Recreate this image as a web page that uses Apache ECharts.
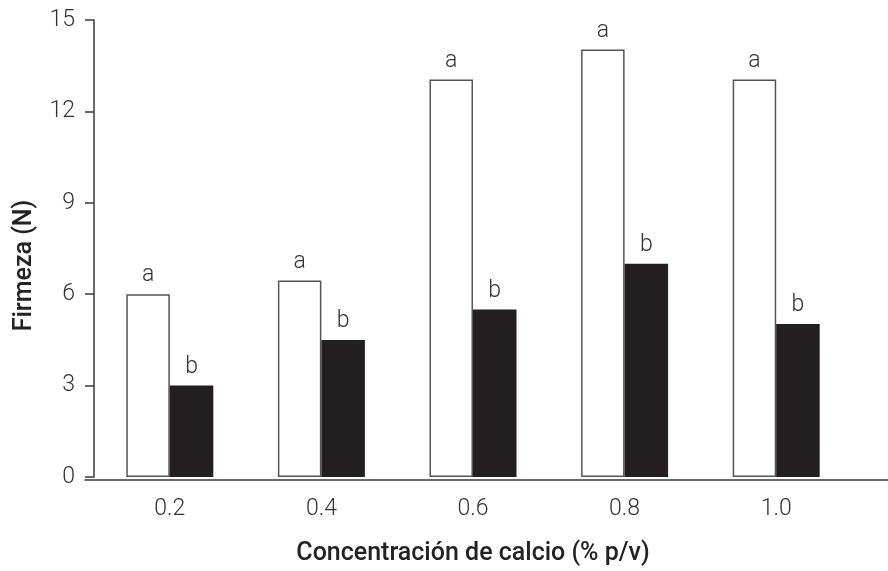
<!DOCTYPE html>
<html>
<head>
<meta charset="utf-8">
<script src="https://cdn.jsdelivr.net/npm/echarts@6/dist/echarts.min.js"></script>
<style>html,body{margin:0;padding:0;background:#fff}#c{width:888px;height:571px}</style>
</head>
<body>
<div id="c"></div>
<script>
const categories = ['0.2', '0.4', '0.6', '0.8', '1.0'];
const whiteValues = [6.0, 6.45, 13.05, 14.03, 13.05];
const blackValues = [3.0, 4.5, 5.5, 7.0, 5.02];
const whiteLetters = ['a', 'a', 'a', 'a', 'a'];
const blackLetters = ['b', 'b', 'b', 'b', 'b'];
const yTicks = { min: 0, max: 15, interval: 3 };
const xTitle = 'Concentración de calcio (% p/v)';
const yTitle = 'Firmeza (N)';

const lineColor = '#3a3a3a';
const textColor = '#333';
const font = 'Roboto';

const chart = echarts.init(document.getElementById('c'), null, { renderer: 'canvas' });
chart.setOption({
  animation: false,
  backgroundColor: '#fff',
  grid: [
    { left: 94, right: 36, top: 20, bottom: 91.5 },
    { left: 85, right: 0, top: 20, bottom: 91.5 }
  ],
  xAxis: [
    {
      gridIndex: 0,
      type: 'category',
      data: categories,
      axisLine: { show: false },
      axisTick: { show: false },
      axisLabel: { color: textColor, fontFamily: font, fontWeight: 300, fontSize: 23, margin: 21 },
      name: xTitle,
      nameLocation: 'middle',
      nameGap: 64,
      nameTextStyle: { color: '#222', fontFamily: font, fontWeight: 500, fontSize: 25 }
    },
    {
      gridIndex: 1,
      type: 'value',
      min: 0, max: 1,
      axisLine: { show: true, lineStyle: { color: lineColor, width: 1.5 } },
      axisTick: { show: false },
      axisLabel: { show: false },
      splitLine: { show: false }
    }
  ],
  yAxis: [
    {
      gridIndex: 0,
      type: 'value',
      min: yTicks.min, max: yTicks.max, interval: yTicks.interval,
      axisLine: { show: true, lineStyle: { color: lineColor, width: 1.5 } },
      axisTick: { show: true, length: 9, lineStyle: { color: lineColor, width: 1.5 } },
      axisLabel: { color: textColor, fontFamily: font, fontWeight: 300, fontSize: 23, margin: 19 },
      splitLine: { show: false },
      name: yTitle,
      nameLocation: 'middle',
      nameGap: 57,
      nameRotate: 90,
      nameTextStyle: { color: '#222', fontFamily: font, fontWeight: 500, fontSize: 25, padding: [0, 34, 0, 0] }
    },
    {
      gridIndex: 1,
      type: 'value',
      min: 0, max: 1,
      show: false
    }
  ],
  series: [
    {
      type: 'bar',
      xAxisIndex: 0, yAxisIndex: 0,
      data: whiteValues,
      barWidth: 43.5,
      barGap: '0%',
      itemStyle: { color: '#fff', borderColor: '#555', borderWidth: 1.5 },
      label: {
        show: true, position: 'top', distance: 7,
        color: textColor, fontFamily: font, fontWeight: 300, fontSize: 23,
        formatter: p => whiteLetters[p.dataIndex]
      }
    },
    {
      type: 'bar',
      xAxisIndex: 0, yAxisIndex: 0,
      data: blackValues,
      barWidth: 43.5,
      barGap: '0%',
      itemStyle: { color: '#231f20' },
      label: {
        show: true, position: 'top', distance: 7,
        color: textColor, fontFamily: font, fontWeight: 300, fontSize: 23,
        formatter: p => blackLetters[p.dataIndex]
      }
    }
  ]
});
</script>
</body>
</html>
